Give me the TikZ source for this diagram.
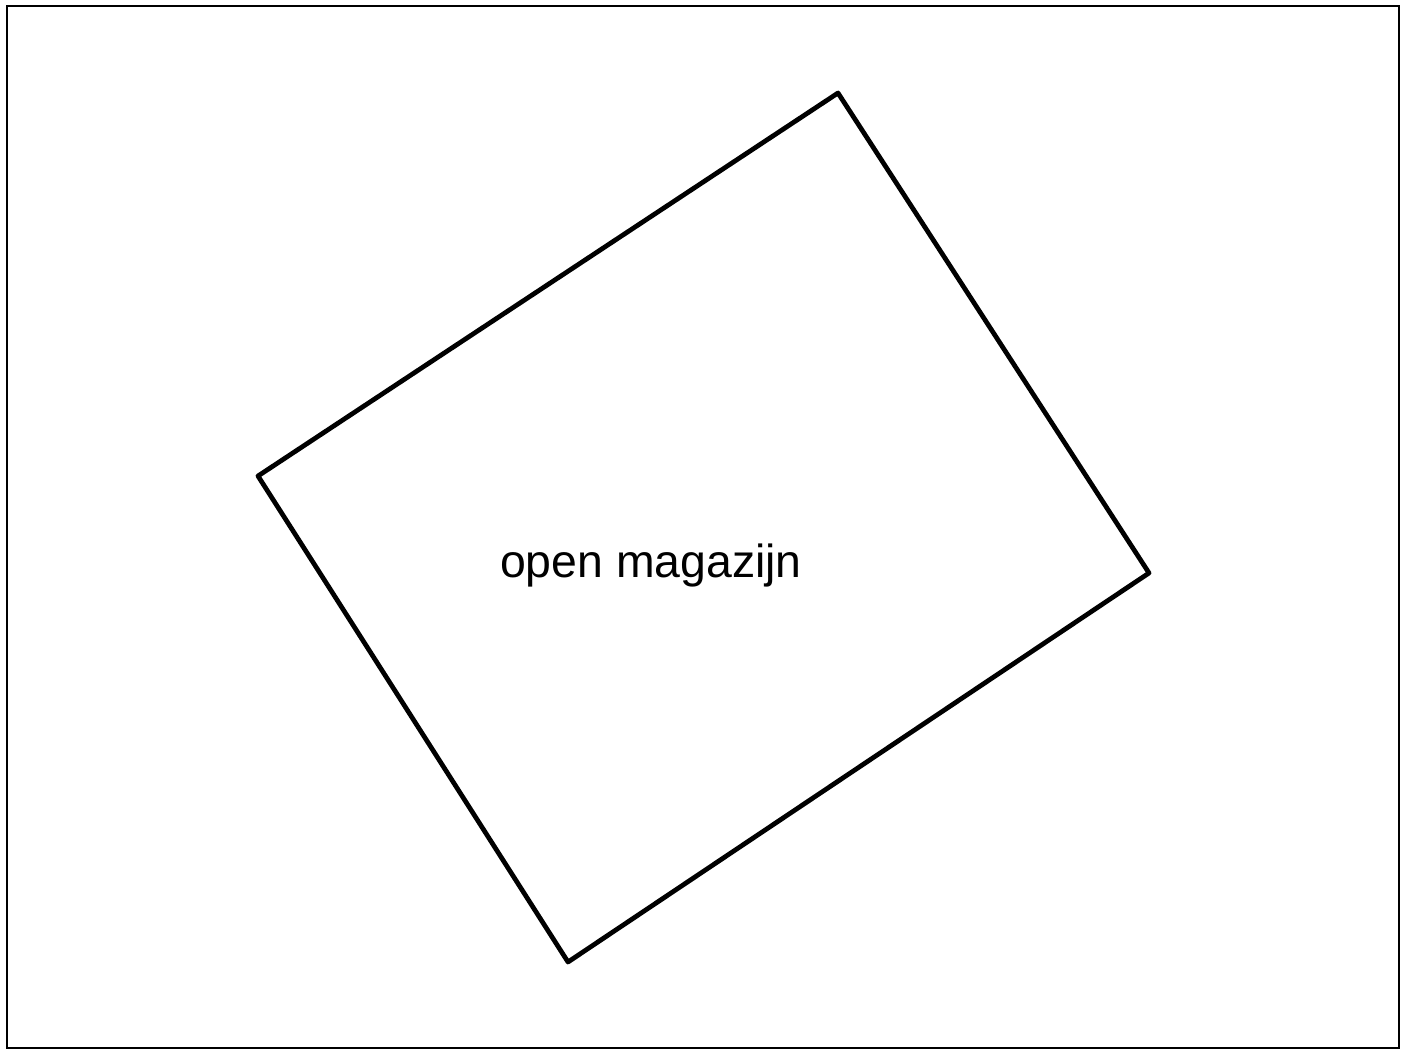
\documentclass[tikz,border=0pt]{standalone}
\usepackage{fontspec}
\setmainfont{Liberation Sans}
\usepackage{tikz}
\usetikzlibrary{positioning}

\begin{document}
\begin{tikzpicture}[x=0.02cm,y=-0.02cm]
    \useasboundingbox (0,0) rectangle (1408,1050);
    \draw[line width=1.3pt] (7,6) rectangle (1399,1048);
    \coordinate (top) at (838,93);
    \coordinate (right) at (1149,573);
    \coordinate (bottom) at (568,962);
    \coordinate (left) at (258,476);
    \draw[line width=2.7pt,line join=round] (top)--(right)--(bottom)--(left)--cycle;
    \node[font=\fontsize{26.4}{30}\selectfont,anchor=base,inner sep=0pt] (label) at (651,577) {open magazijn};
  \end{tikzpicture}
\end{document}
